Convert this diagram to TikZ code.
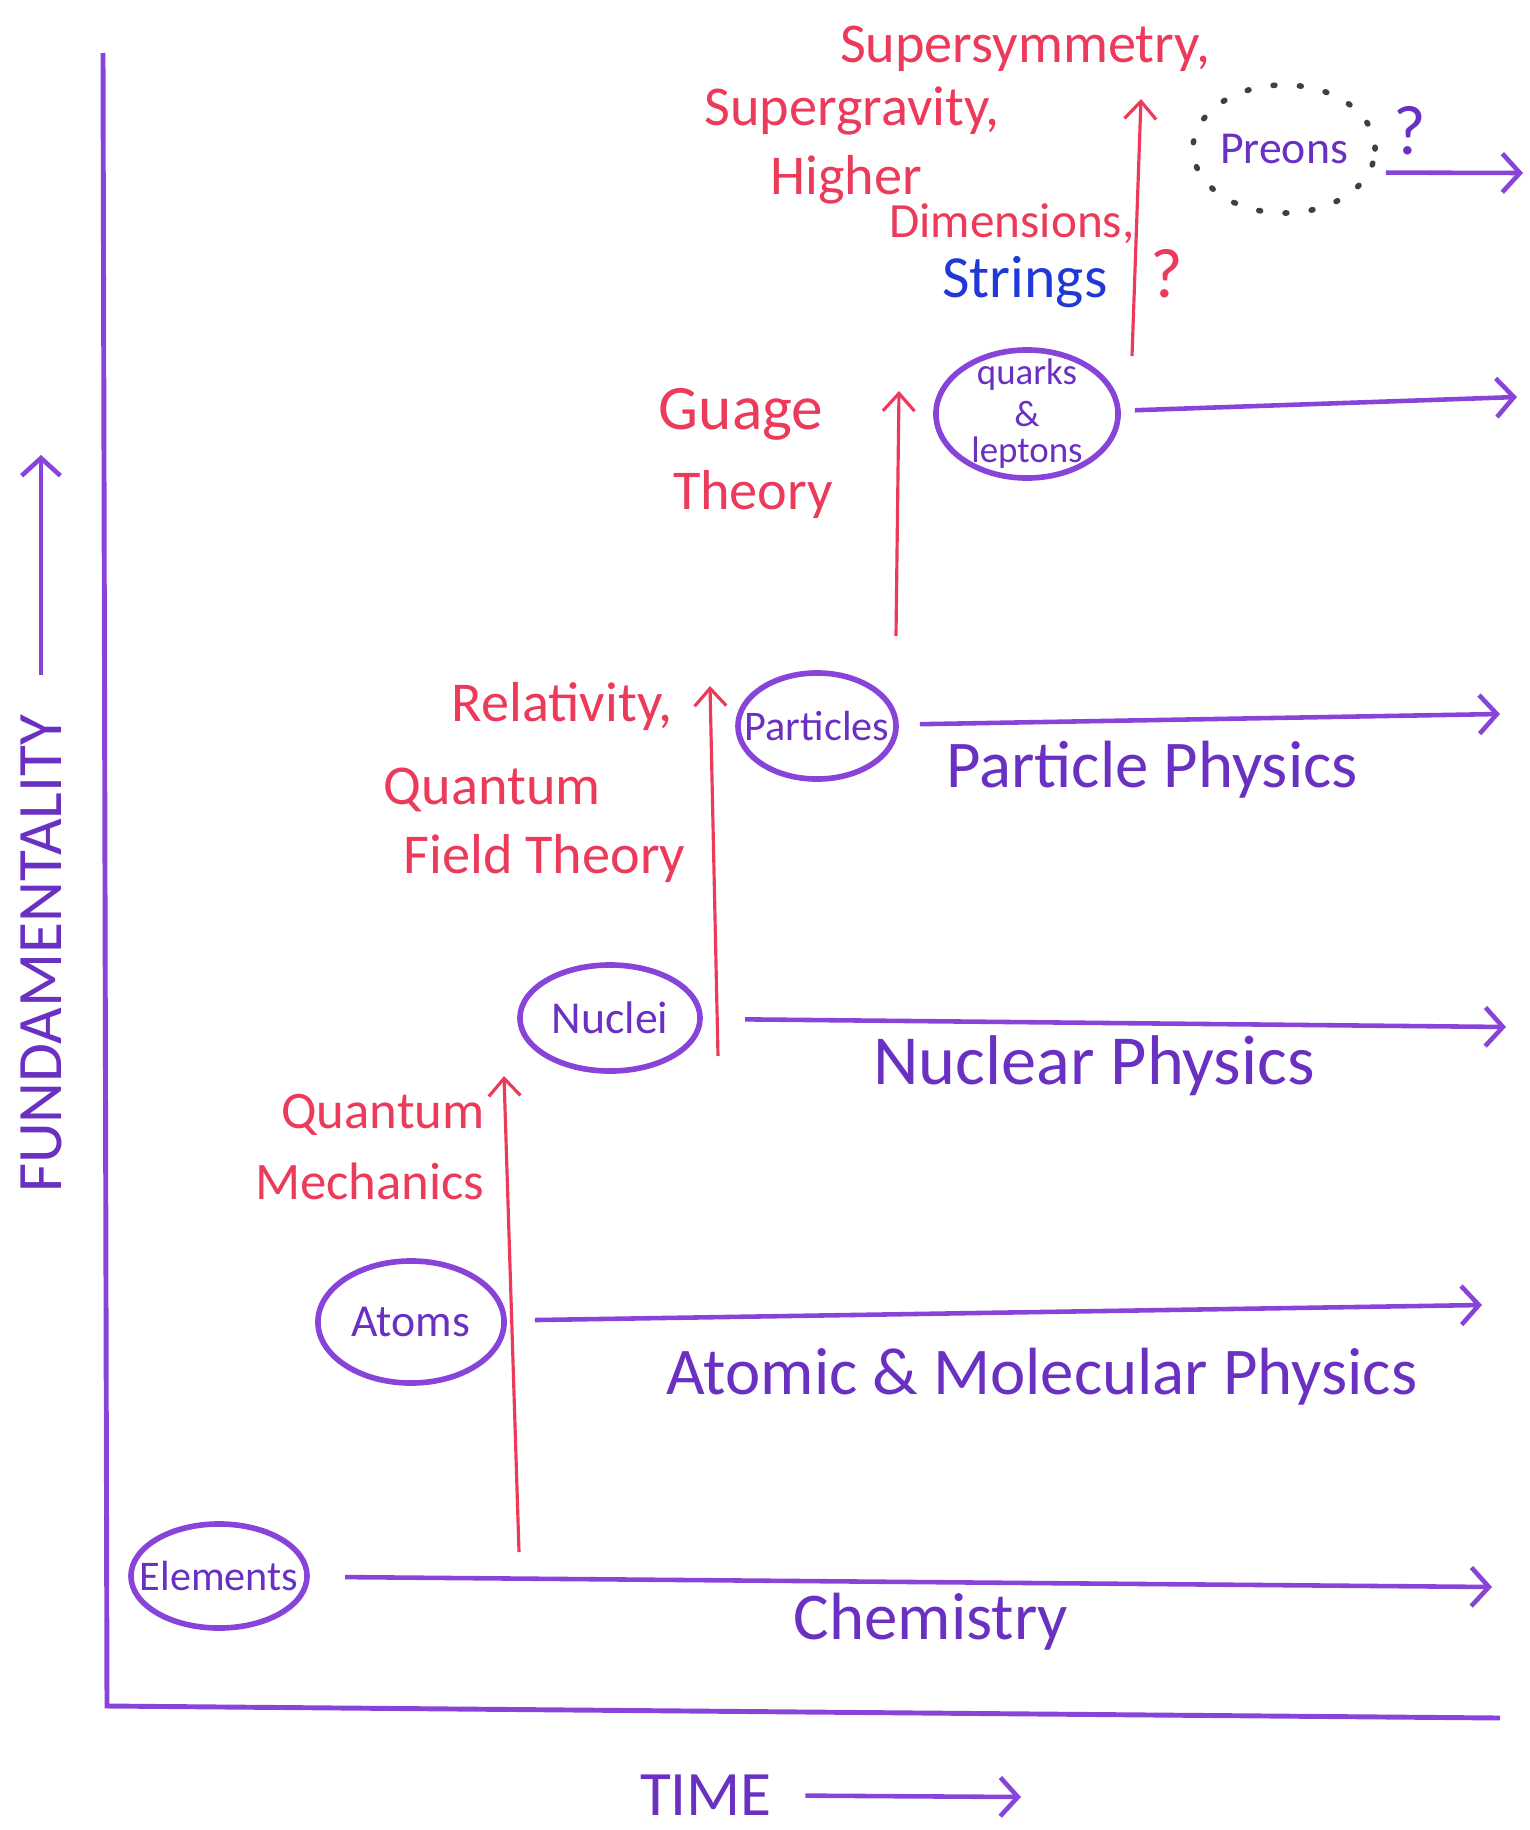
\documentclass[tikz,border=0pt]{standalone}
\usepackage{fontspec}
\setmainfont{Carlito}
\usepackage{xcolor}
\usepackage{tikz}
\usetikzlibrary{arrows.meta,positioning,shapes.geometric}

\definecolor{inkpurple}{HTML}{8844D8}
\definecolor{inktext}{HTML}{6A30C2}
\definecolor{inkred}{HTML}{EC3A5A}
\definecolor{inkblue}{HTML}{2038D8}

\tikzset{
  thing/.style={ellipse, draw=inkpurple, line width=1.6pt, inner sep=0pt},
  tag/.style={label={[text=inktext, font=\fontsize{13}{13}\selectfont]center:#1}},
  field/.style={text=inktext, font=\fontsize{19}{21}\selectfont},
  theory/.style={text=inkred, font=\fontsize{16}{18}\selectfont},
  timeline/.style={draw=inkpurple, line width=1.3pt, -{Straight Barb[length=5pt,width=11pt]}},
  leap/.style={draw=inkred, line width=0.9pt, -{Straight Barb[length=5pt,width=9pt]}},
}

\begin{document}
\begin{tikzpicture}[x=0.01cm, y=-0.01cm]
\useasboundingbox (0,0) rectangle (1529,1830);

    % Axes
    \coordinate (top) at (103,53);
    \coordinate (origin) at (107,1706);
    \coordinate (far) at (1500,1718);
    \draw[inkpurple, line width=1.4pt] (top) -- (origin) -- (far);

    \node[field, font=\fontsize{18}{20}\selectfont, rotate=90] (fund) at (41,954) {FUNDAMENTALITY};
    \coordinate (fundTip) at (41,455);
    \draw[timeline, shorten <=8pt] (fund) -- (fundTip);

    \node[field, font=\fontsize{18}{20}\selectfont] (time) at (706,1795) {TIME};
    \coordinate (timeTip) at (1021,1797);
    \draw[timeline, shorten <=6pt] (time) -- (timeTip);

    % Building blocks
    \node[thing, minimum width=1.76cm, minimum height=1.04cm,
          tag={\fontsize{12}{12}\selectfont Elements}] (elements) at (219,1576) {};
    \node[thing, minimum width=1.86cm, minimum height=1.22cm, tag=Atoms] (atoms) at (411,1322) {};
    \node[thing, minimum width=1.80cm, minimum height=1.06cm, tag=Nuclei] (nuclei) at (610,1018) {};
    \node[thing, minimum width=1.58cm, minimum height=1.06cm,
          tag={\fontsize{12}{12}\selectfont Particles}] (particles) at (817,726) {};
    \node[thing, minimum width=1.82cm, minimum height=1.28cm,
          tag={\fontsize{10.5}{8.5}\selectfont\shortstack{quarks\\\&\\leptons}}] (quarks) at (1027,414) {};
    \node[ellipse, draw=black!75, line width=1.6pt, line cap=round, dash pattern=on 0.5pt off 7pt,
          minimum width=1.82cm, minimum height=1.28cm, tag=Preons] (preons) at (1284,149) {};

    % Fields, one per level
    \coordinate (chemEnd) at (1492,1587);
    \coordinate (atomEnd) at (1482,1305);
    \coordinate (nuclEnd) at (1506,1027);
    \coordinate (partEnd) at (1500,714);
    \coordinate (quarkEnd) at (1517,397);
    \coordinate (preonEnd) at (1523,173);
    \draw[timeline, shorten <=10pt] (elements) -- (chemEnd);
    \draw[timeline, shorten <=8pt] (atoms) -- (atomEnd);
    \draw[timeline, shorten <=12pt] (nuclei) -- (nuclEnd);
    \draw[timeline, shorten <=6pt] (particles) -- (partEnd);
    \draw[timeline, shorten <=4pt] (quarks) -- (quarkEnd);
    \draw[timeline, shorten <=4pt] (preons.-15) -- (preonEnd);

    \node[field] (chem) at (931,1622) {Chemistry};
    \node[field] (amo) at (1042,1377) {Atomic \& Molecular Physics};
    \node[field, font=\fontsize{20}{22}\selectfont] (nucl) at (1094,1066) {Nuclear Physics};
    \node[field] (part) at (1152,770) {Particle Physics};

    % Theories pushing upward
    \coordinate (qmBot) at (519,1552);
    \coordinate (qmTop) at (504,1076);
    \coordinate (qftBot) at (718,1056);
    \coordinate (qftTop) at (710,686);
    \coordinate (gtBot) at (896,636);
    \coordinate (gtTop) at (899,391);
    \coordinate (susyBot) at (1132,356);
    \coordinate (susyTop) at (1141,99);
    \draw[leap] (qmBot) -- (qmTop);
    \draw[leap] (qftBot) -- (qftTop);
    \draw[leap] (gtBot) -- (gtTop);
    \draw[leap] (susyBot) -- (susyTop);

    \node[theory, anchor=east, font=\fontsize{15}{16}\selectfont] (qm1) at (497,1115) {Quantum};
    \node[theory, anchor=east, font=\fontsize{15}{16}\selectfont] (qm2) at (497,1181) {Mechanics};

    \node[theory, anchor=east] (rel) at (685,706) {Relativity,};
    \node[theory, anchor=east] (qft1) at (613,790) {Quantum};
    \node[theory, anchor=east] (qft2) at (698,858) {Field Theory};

    \node[theory, font=\fontsize{18}{20}\selectfont] (gt1) at (741,414) {Guage};
    \node[theory] (gt2) at (753,494) {Theory};

    \node[theory] (susy) at (1025,49) {Supersymmetry,};
    \node[theory] (sugra) at (852,111) {Supergravity,};
    \node[theory] (higher) at (846,180) {Higher};
    \node[theory, font=\fontsize{14}{16}\selectfont] (dims) at (1012,224) {Dimensions,};
    \node[theory, text=inkblue, font=\fontsize{17}{18}\selectfont] (strings) at (1025,282) {Strings};
    \node[theory, font=\fontsize{20}{20}\selectfont] (ask1) at (1167,274) {?};
    \node[field, font=\fontsize{20}{20}\selectfont] (ask2) at (1410,131) {?};
\end{tikzpicture}
\end{document}
